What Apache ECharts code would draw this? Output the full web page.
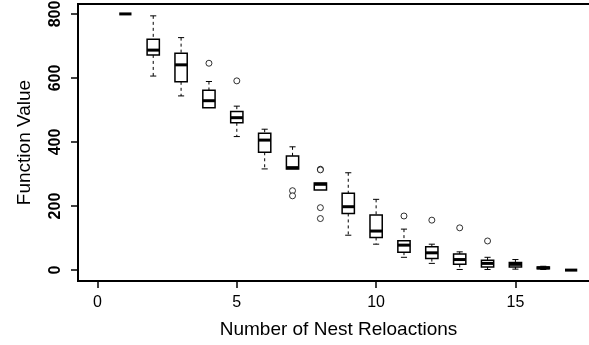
<!DOCTYPE html>
<html>
<head>
<meta charset="utf-8">
<script src="https://cdn.jsdelivr.net/npm/echarts@6/dist/echarts.min.js"></script>
<style>
  html, body { margin: 0; padding: 0; background: #fff; }
  #main { width: 589px; height: 345px; }
</style>
</head>
<body>
<div id="main"></div>
<script>
// number of relocations and the box statistics
var relocations = [1, 2, 3, 4, 5, 6, 7, 8, 9, 10, 11, 12, 13, 14, 15, 16, 17];
var lowWhisker  = [800, 606, 544, 506, 417, 316, 316, 250, 109, 81, 40, 21, 2, 2, 3, 2, 0];
var lowerQuart  = [800, 672, 588, 507, 460, 368, 316, 250, 177, 102, 56, 36, 18, 10, 10, 4, 0];
var medians     = [800, 687, 641, 529, 476, 406, 320, 268, 198, 122, 78, 54, 33, 21, 18, 7, 0];
var upperQuart  = [800, 721, 677, 562, 495, 427, 356, 272, 240, 172, 92, 73, 50, 31, 24, 10, 0];
var highWhisker = [800, 794, 726, 589, 512, 440, 385, 272, 304, 221, 128, 81, 57, 40, 33, 12, 0];

// outliers
var outlierX = [4, 5, 7, 7, 8, 8, 8, 8, 11, 12, 13, 14];
var outlierY = [646, 591, 248, 232, 315, 313, 195, 161, 169, 156, 132, 91];

var xTicks = [0, 5, 10, 15];
var yTicks = [0, 200, 400, 600, 800];

var boxData = [];
for (var i = 0; i < relocations.length; i++) {
	boxData.push([relocations[i], lowWhisker[i], lowerQuart[i], medians[i], upperQuart[i], highWhisker[i]]);
}
var outData = [];
for (var j = 0; j < outlierX.length; j++) {
	outData.push([outlierX[j], outlierY[j]]);
}

var font = "'Liberation Sans', Arial, sans-serif";

function renderBox(params, api) {
	var x = api.value(0);
	var lo = api.coord([x, api.value(1)]);
	var q1 = api.coord([x, api.value(2)]);
	var md = api.coord([x, api.value(3)]);
	var q3 = api.coord([x, api.value(4)]);
	var hi = api.coord([x, api.value(5)]);
	var hw = api.size([0.22, 0])[0];
	var cw = hw / 2;
	var cx = md[0];
	var thin = { stroke: '#000', lineWidth: 1 };
	var dashed = { stroke: '#000', lineWidth: 1, lineDash: [3, 3] };
	var kids = [];
	if (hi[1] < q3[1] - 0.5) {
		kids.push({ type: 'line', shape: { x1: cx, y1: hi[1], x2: cx, y2: q3[1] }, style: dashed });
		kids.push({ type: 'line', shape: { x1: cx - cw, y1: hi[1], x2: cx + cw, y2: hi[1] }, style: thin });
	}
	if (lo[1] > q1[1] + 0.5) {
		kids.push({ type: 'line', shape: { x1: cx, y1: q1[1], x2: cx, y2: lo[1] }, style: dashed });
		kids.push({ type: 'line', shape: { x1: cx - cw, y1: lo[1], x2: cx + cw, y2: lo[1] }, style: thin });
	}
	if (q1[1] - q3[1] > 0.5) {
		kids.push({ type: 'rect', shape: { x: cx - hw, y: q3[1], width: hw * 2, height: q1[1] - q3[1] },
			style: { fill: '#fff', stroke: '#000', lineWidth: 1.5 } });
	}
	kids.push({ type: 'line', shape: { x1: cx - hw, y1: md[1], x2: cx + hw, y2: md[1] },
		style: { stroke: '#000', lineWidth: 3 } });
	return { type: 'group', children: kids };
}

var myChart = echarts.init(document.getElementById('main'));
var option = {
	animation: false,
	backgroundColor: '#fff',
	grid: {
		show: true,
		left: 78,
		top: 4,
		width: 521,
		height: 277,
		outerBoundsMode: 'none',
		borderColor: '#000',
		borderWidth: 2,
		backgroundColor: 'transparent'
	},
	xAxis: {
		type: 'value',
		min: -0.7,
		max: 18,
		name: 'Number of Nest Reloactions',
		nameLocation: 'middle',
		nameGap: 39,
		nameTextStyle: { color: '#000', fontSize: 19, fontFamily: font },
		axisLine: { show: true, onZero: false, lineStyle: { color: '#000', width: 2 } },
		axisTick: { show: true, length: 7, customValues: xTicks, lineStyle: { color: '#000', width: 1.5 } },
		axisLabel: { customValues: xTicks, color: '#000', fontSize: 16, fontFamily: font, margin: 14 },
		splitLine: { show: false }
	},
	yAxis: {
		type: 'value',
		min: -34,
		max: 831,
		name: 'Function Value',
		nameLocation: 'middle',
		nameGap: 44,
		nameRotate: 90,
		nameTextStyle: { color: '#000', fontSize: 19, fontFamily: font },
		axisLine: { show: true, onZero: false, lineStyle: { color: '#000', width: 2 } },
		axisTick: { show: true, length: 7, customValues: yTicks, lineStyle: { color: '#000', width: 1.5 } },
		axisLabel: { customValues: yTicks, rotate: 90, color: '#000', fontSize: 16, fontWeight: 'bold', fontFamily: font, margin: 14 },
		splitLine: { show: false }
	},
	series: [{
		type: 'custom',
		renderItem: renderBox,
		encode: { x: 0, y: [1, 2, 3, 4, 5] },
		data: boxData,
		z: 3
	}, {
		type: 'scatter',
		symbol: 'circle',
		symbolSize: 6,
		itemStyle: { color: '#fff', borderColor: '#000', borderWidth: 1 },
		data: outData,
		z: 4
	}]
};
myChart.setOption(option);
</script>
</body>
</html>
